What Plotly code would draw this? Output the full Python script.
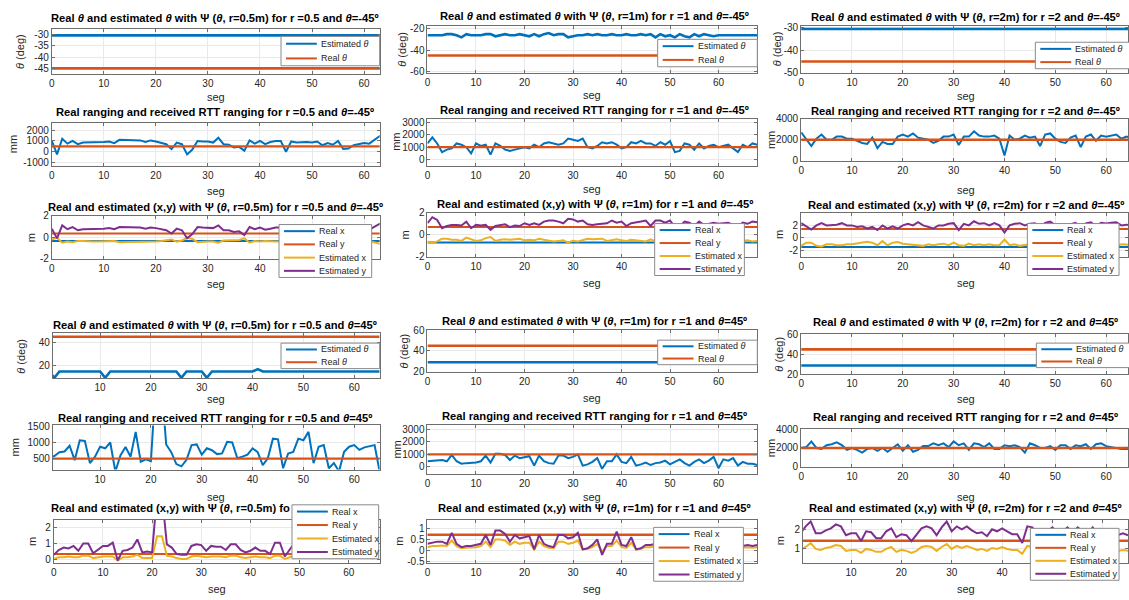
import plotly.graph_objects as go

W, H = 1129, 600

# ---------------- sample axes (seg) ----------------
SEG_A = list(range(0, 65))   # left column, theta = -45º
SEG_B = list(range(0, 69))   # middle column
SEG_C = list(range(0, 66))   # right column
SEG_D = list(range(0, 66))   # left column, theta = 45º

TICKS_SEG = [0, 10, 20, 30, 40, 50, 60]

# ---------------- angle estimates (deg) ----------------
REAL_THETA_NEG = -45
REAL_THETA_POS = 45

EST_THETA_R05_NEG = -30.5
EST_THETA_R1_NEG = [-26, -26, -26, -26, -25, -25, -26, -28, -25, -26,
                    -26, -26, -25, -25, -27, -26, -25, -26, -26, -25,
                    -26, -27, -25, -27, -25, -24, -26, -25, -25, -28,
                    -27, -26, -26, -25, -26, -25, -26, -26, -25, -26,
                    -26, -25, -26, -26, -25, -26, -25, -28, -25, -27,
                    -26, -28, -25, -27, -28, -25, -27, -25, -26, -27,
                    -26, -26, -26, -26, -26, -26, -26, -26, -26]
EST_THETA_R2_NEG = -30.5

EST_THETA_R05_POS = [15, 9.5, 15, 15, 15, 15, 15, 15, 15, 15,
                     15, 9.5, 15, 15, 15, 15, 15, 15, 15, 15,
                     15, 15, 15, 15, 15, 15, 9.5, 15, 15, 15,
                     15, 9.5, 15, 15, 15, 15, 15, 15, 15, 15,
                     15, 17, 15, 15, 15, 15, 15, 15, 15, 15,
                     15, 15, 15, 15, 15, 15, 15, 15, 15, 15,
                     15, 15, 15, 15, 15, 15]
EST_THETA_R1_POS = 29
EST_THETA_R2_POS = 29

# ---------------- ranging (mm) ----------------
REAL_RANGE_R05 = 500
REAL_RANGE_R1 = 1000
REAL_RANGE_R2 = 2000

RTT_R05_NEG = [1000, -250, 1200, 750, 1000, 700, 850, 850, 850, 900,
               900, 950, 800, 1100, 1100, 1050, 1050, 1050, 900, 1050,
               950, 800, 700, 250, 850, 700, -250, 200, 1000, 950,
               950, 850, 1300, 700, 650, 400, 450, 100, 1050, 750,
               1000, 700, 900, 1000, 1000, 0, 950, 850, 900, 900,
               850, 950, 600, 800, 650, 1000, 250, 300, 600, 700,
               800, 750, 1100, 1450, 1150]
RTT_R1_NEG = [1300, 1800, 1300, 600, 800, 900, 1300, 1200, 1000, 500,
              1300, 1100, 1200, 400, 1300, 1100, 800, 700, 800, 900,
              1000, 900, 1200, 1000, 1300, 1400, 1300, 1200, 1300, 1700,
              1600, 1500, 1700, 1000, 900, 1100, 1400, 1300, 1400, 1200,
              900, 1000, 1400, 1300, 1500, 1300, 1300, 1100, 1400, 1200,
              1500, 600, 700, 1300, 1200, 800, 1300, 900, 1100, 1200,
              1000, 1100, 1200, 900, 600, 1200, 1000, 1300, 1200]
RTT_R2_NEG = [2700, 2100, 1400, 2100, 2500, 2000, 2000, 2300, 2300, 2100,
              2100, 1900, 1700, 1600, 2200, 1200, 1800, 1600, 1600, 2300,
              2500, 2300, 2600, 2200, 2100, 2000, 1700, 1900, 2300, 2300,
              2500, 1500, 2300, 2300, 2800, 2400, 2300, 2300, 2400, 2100,
              500, 2400, 2000, 2100, 2400, 2200, 2300, 1400, 2500, 2600,
              2100, 1800, 1700, 2200, 2400, 1300, 2300, 2500, 1900, 2400,
              2300, 2400, 2500, 2100, 2300, 2200]

RTT_R05_POS = [560,
               580, 700, 720, 900, 450, 1070, 1050, 360, 560, 870,
               820, 1000, 100, 600, 860, 560, 1330, 400, 480, 420,
               3000, 3000, 940, 700, 330, 260, 460, 920, 940, 620,
               820, 760, 640, 660, 1020, 1000, 510, 560, 620, 820,
               700, 300, 510, 1120, 1100, 200, 660, 710, 1120, 1070,
               1330, 360, 870, 920, 200, 360, 100, 710, 870, 920,
               770, 850, 880, 920, 100]
RTT_R1_POS = [450, 500, 550, 550, 450, 950, 450, 250, 300, 300,
              350, 450, 900, 350, 1050, 1050, 950, 550, 900, 700,
              800, 850, 100, 900, 450, 300, 250, 900, 900, 700,
              800, 1000, 100, 200, 400, 700, -150, 450, 450, 1000,
              400, 300, 800, 100, 200, 350,
              150, 300, 350, 500, 200, 400, 600, 300, 100, 400,
              600, 300, 500, 800, -100, 600, 500, 700, 100, 400,
              250, 250, 150]
RTT_R2_POS = [2000, 2100, 2700, 2000, 1900, 2300, 2400, 2600, 2300, 1800,
              2000, 1800, 1500, 1900, 2000, 1700, 2000, 1600, 2000, 2400,
              1700, 2300, 1600, 1800, 2200, 2200, 2500, 2300, 2500, 2100,
              2700, 2300, 2500, 1800, 2500, 2400, 2100, 2500, 1900, 1900,
              2300, 2200, 2300, 2100, 1500, 2500, 2300, 2000, 2000, 2200,
              1800, 2300, 2300, 1900, 2300, 2200, 2400, 1900, 2400, 2500,
              2200, 2100, 2000, 1900, 1900, 1900]

# ---------------- positions (m) ----------------
REAL_XY_R05 = 0.354
REAL_XY_R1 = 0.707
REAL_XY_R2 = 1.414

EST_X_R05_NEG = [-0.2, -0.05, -0.5, -0.4, -0.45, -0.35, -0.35, -0.4, -0.4, -0.4,
                 -0.4, -0.4, -0.35, -0.45, -0.45, -0.4, -0.4, -0.4, -0.4, -0.4,
                 -0.4, -0.35, -0.3, -0.2, -0.4, -0.3, -0.05, -0.15, -0.45, -0.4,
                 -0.4, -0.4, -0.5, -0.3, -0.3, -0.25, -0.25, -0.1, -0.5, -0.35,
                 -0.4, -0.35, -0.4, -0.4, -0.4, -0.05, -0.4, -0.4, -0.4, -0.4,
                 -0.4, -0.4, -0.3, -0.35, -0.3, -0.4, -0.2, -0.2, -0.3, -0.35,
                 -0.35, -0.35, -0.45, -0.6, -0.5]
EST_Y_R05_NEG = [0.8, -0.1, 1.1, 0.75, 0.95, 0.65, 0.75, 0.75, 0.75, 0.8,
                 0.8, 0.85, 0.75, 0.95, 0.95, 0.9, 0.9, 0.9, 0.8, 0.9,
                 0.85, 0.75, 0.65, 0.35, 0.8, 0.65, -0.1, 0.3, 0.95, 0.9,
                 0.9, 0.85, 1.1, 0.65, 0.65, 0.5, 0.55, 0.2, 0.95, 0.75,
                 0.9, 0.7, 0.8, 0.9, 0.9, 0.1, 0.9, 0.8, 0.85, 0.85,
                 0.8, 0.9, 0.6, 0.75, 0.65, 0.9, 0.35, 0.4, 0.6, 0.7,
                 0.75, 0.7, 1.0, 1.25, 1.05]
EST_X_R1_NEG = [-0.6, -0.75, -0.6, -0.35, -0.35, -0.45, -0.45, -0.55, -0.25, -0.4,
                -0.55, -0.5, -0.3, -0.2, -0.55, -0.45, -0.4, -0.45, -0.4, -0.35,
                -0.5, -0.45, -0.5, -0.35, -0.45, -0.5, -0.6, -0.55, -0.5, -0.7,
                -0.55, -0.6, -0.45, -0.35, -0.4, -0.4, -0.35, -0.55, -0.45, -0.4,
                -0.5, -0.55, -0.45, -0.5, -0.55, -0.6, -0.4, -0.6, -0.55, -0.5,
                -0.6, -0.35, -0.4, -0.55, -0.5, -0.4, -0.55, -0.45, -0.5, -0.5,
                -0.45, -0.5, -0.55, -0.45, -0.4, -0.55, -0.5, -0.6, -0.55]
EST_Y_R1_NEG = [1.05, 1.6, 1.35, 0.6, 0.8, 0.9, 0.9, 0.85, 1.2, 0.6,
                0.9, 0.85, 0.9, 0.45, 0.8, 0.9, 0.95, 0.7, 0.85, 0.8,
                1.05, 0.9, 1.05, 0.9, 1.2, 1.3, 1.3, 1.2, 1.05, 1.45,
                1.4, 1.2, 1.3, 0.95, 0.9, 0.95, 1.0, 1.05, 1.3, 1.1,
                1.2, 0.8, 1.05, 1.1, 1.2, 1.3, 0.8, 1.3, 1.3, 1.1,
                1.3, 0.7, 0.75, 1.2, 1.1, 0.8, 1.2, 0.9, 1.0, 1.1,
                1.0, 1.05, 1.1, 0.9, 0.75, 1.1, 1.0, 1.2, 1.15]
EST_X_R2_NEG = [-1.25, -0.75, -0.75, -1.25, -1.35, -1.0, -1.0, -1.15, -1.15, -1.0,
                -1.0, -0.9, -0.75, -0.6, -0.75, -1.15, -0.5, -1.15, -0.75, -0.65,
                -0.9, -1.0, -1.15, -1.15, -1.25, -1.0, -1.15, -1.0, -0.9, -1.15,
                -0.75, -1.15, -1.25, -0.9, -1.15, -1.0, -1.15, -1.0, -1.15, -1.15,
                -0.25, -1.15, -1.0, -1.25, -1.15, -1.0, -1.1, -0.8, -1.2, -1.3,
                -1.0, -0.9, -0.85, -1.1, -1.2, -0.7, -1.15, -1.25, -0.95, -1.2,
                -1.15, -1.2, -1.25, -1.0, -1.05, -1.1]
EST_Y_R2_NEG = [2.35, 1.85, 1.35, 2.0, 2.35, 2.0, 2.0, 2.1, 2.35, 2.0,
                2.0, 1.75, 1.85, 1.5, 1.75, 1.25, 2.0, 1.5, 1.85, 1.5,
                2.0, 2.25, 2.0, 2.5, 2.0, 1.75, 1.5, 2.0, 2.0, 2.25,
                2.35, 1.25, 2.25, 2.0, 2.65, 2.25, 2.35, 2.0, 2.35, 2.0,
                0.85, 2.0, 2.25, 2.35, 2.0, 2.25, 2.35, 1.5, 2.4, 2.6,
                2.0, 1.8, 1.7, 2.2, 2.4, 1.3, 2.3, 2.5, 1.9, 2.4,
                2.3, 2.4, 2.5, 2.0, 2.1, 2.0]

EST_X_R05_POS = [0.05, 0.15, 0.15, 0.2, 0.15, 0.15, 0.25, 0.25, 0.1, 0.15,
                 0.2, 0.2, 0.2, -0.05, 0.15, 0.15, 0.2, 0.3, 0.1, 0.1,
                 0.1, 1.45, 1.45, 0.25, 0.2, 0.1, 0.05, 0.05, 0.2, 0.25,
                 0.2, 0.15, 0.2, 0.2, 0.2, 0.15, 0.25, 0.25, 0.15, 0.1,
                 0.15, 0.2, 0.15, 0.15, 0.1, 0.25, 0.25, 0.05, 0.15, 0.25,
                 0.25, 0.2, 0.2, 0.2, 0.15, 0.15, 0.1, 0.2, 0.2, 0.15,
                 0.2, 0.2, 0.2, 0.2, 0.2, 0.05]
EST_Y_R05_POS = [0.3, 0.6, 0.75, 0.7, 0.85, 0.55, 1.0, 1.0, 0.4, 0.65,
                 0.85, 0.85, 1.05, -0.05, 0.55, 0.6, 0.75, 1.25, 0.45, 0.5,
                 0.45, 4.0, 4.0, 0.95, 0.75, 0.35, 0.3, 0.3, 0.85, 0.95,
                 0.9, 0.55, 0.85, 0.8, 0.8, 0.6, 0.95, 0.95, 0.6, 0.45,
                 0.55, 0.75, 0.55, 0.55, 0.35, 1.05, 1.05, 0.2, 0.6, 1.05,
                 1.05, 0.7, 0.8, 0.9, 0.5, 0.6, 0.3, 0.8, 0.9, 0.6,
                 0.85, 0.7, 0.9, 0.8, 0.9, 0.2]
EST_X_R1_POS = [0.15, 0.2, 0.2, 0.22, 0.2, 0.45, 0.2, 0.1, 0.12, 0.12,
                0.15, 0.2, 0.4, 0.15, 0.5, 0.5, 0.45, 0.25, 0.4, 0.3,
                0.35, 0.35, 0.05, 0.4, 0.2, 0.12, 0.1, 0.4, 0.4, 0.3,
                0.35, 0.45, 0.05, 0.08, 0.15, 0.3, -0.05, 0.2, 0.2, 0.45,
                0.15, 0.12, 0.35, 0.05, 0.08, 0.15, 0.15, 0.2, 0.25, 0.3,
                0.2, 0.35, 0.12, 0.25, 0.3, 0.2, 0.12, 0.35, 0.25, 0.2,
                0.3, 0.25, 0.2, 0.15, 0.2, 0.12, 0.15, 0.12, 0.15]
EST_Y_R1_POS = [0.3, 0.35, 0.4, 0.4, 0.3, 0.8, 0.3, 0.15, 0.2, 0.2,
                0.25, 0.3, 0.7, 0.25, 0.9, 0.9, 0.75, 0.4, 0.7, 0.55,
                0.6, 0.65, 0.05, 0.7, 0.3, 0.2, 0.15, 0.7, 0.7, 0.55,
                0.6, 0.8, 0.05, 0.1, 0.25, 0.5, -0.2, 0.3, 0.3, 0.85,
                0.25, 0.2, 0.6, 0.05, 0.1, 0.25, 0.25, 0.3, 0.4, 0.5,
                0.3, 0.6, 0.2, 0.4, 0.5, 0.3, 0.2, 0.6, 0.4, 0.3,
                0.5, 0.4, 0.3, 0.25, 0.3, 0.2, 0.25, 0.2, 0.25]
EST_X_R2_POS = [0.95, 1.1, 1.3, 1.0, 0.95, 1.05, 1.1, 1.2, 1.15, 0.9,
                0.95, 0.95, 0.8, 1.0, 0.95, 0.85, 0.85, 1.0, 1.1, 0.85,
                0.95, 0.9, 0.8, 0.9, 1.1, 1.15, 1.1, 0.9, 1.1, 1.25,
                1.0, 1.15, 1.05, 1.15, 1.05, 0.95, 1.0, 0.9, 1.05, 1.0,
                1.1, 1.0, 0.95, 0.95, 0.75, 1.15, 1.1, 0.95, 1.05, 1.0,
                1.1, 0.95, 1.0, 1.1, 0.95, 1.1, 1.0, 0.95, 1.1, 0.9,
                1.05, 0.95, 1.0, 0.9, 0.95, 0.9]
EST_Y_R2_POS = [1.8, 2.15, 2.4, 1.8, 1.8, 1.95, 2.05, 2.25, 2.15, 1.7,
                1.8, 1.8, 1.4, 1.9, 1.85, 1.55, 1.55, 1.9, 2.05, 1.6,
                1.75, 1.7, 1.4, 1.7, 2.05, 2.15, 2.05, 1.7, 2.1, 2.4,
                1.9, 2.15, 2.0, 2.15, 1.95, 1.8, 1.85, 1.65, 2.0, 1.9,
                2.05, 1.9, 1.75, 1.75, 1.3, 2.15, 2.1, 1.8, 2.0, 1.9,
                2.1, 1.8, 1.9, 2.1, 1.8, 2.1, 1.9, 1.8, 2.1, 1.7,
                2.0, 1.8, 1.9, 1.7, 1.8, 1.7]

# ---------------- styling ----------------
BLUE, ORANGE, YELLOW, PURPLE = "#0072BD", "#D95319", "#EDB120", "#7E2F8E"
TXT = "#262626"
AXC = "#6e6e6e"
GRID = "#e9e9e9"
LEG_EDGE = "#8a8a8a"
FONT = "Liberation Sans, Arial, sans-serif"
TITLE_SIZE = 11.2

TH = "<i>θ</i>"


def title_theta(r, a):
    return f"Real {TH} and estimated {TH} with Ψ ({TH}, r={r}m) for r ={r} and {TH}={a}º"


def title_range(r, a):
    return f"Real ranging and received RTT ranging for r ={r} and {TH}={a}º"


def title_xy(r, a):
    return f"Real and estimated (x,y) with Ψ ({TH}, r={r}m) for r ={r} and {TH}={a}º"


THETA_LEG = [(f"Estimated {TH}", BLUE), (f"Real {TH}", ORANGE)]
XY_LEG = [("Real x", BLUE), ("Real y", ORANGE), ("Estimated x", YELLOW), ("Estimated y", PURPLE)]

# each panel: pixel box (x0, x1, top, bottom), axis ranges, y ticks, series, labels
PANELS = [
    # row 1 : angle, theta = -45º
    dict(px=(49, 378, 23, 69), xr=[0, 63], yr=[-47.3, -27.5], yt=[-45, -40, -35, -30],
         seg=SEG_A, series=[(EST_THETA_R05_NEG, BLUE, 2.6), (REAL_THETA_NEG, ORANGE, 2.6)],
         title=title_theta("0.5", "-45"), ty=12, ylab=f"{TH} (deg)", ylx=17, segy=93,
         legend=((279, 31, 378, 61), THETA_LEG)),
    dict(px=(426, 757, 20, 68), xr=[0, 68], yr=[-61, -17], yt=[-60, -40, -20],
         seg=SEG_B, series=[(EST_THETA_R1_NEG, BLUE, 2.6), (REAL_THETA_NEG, ORANGE, 2.6)],
         title=title_theta("1", "-45"), ty=10, ylab=f"{TH} (deg)", ylx=401, segy=91,
         legend=((657, 34, 757, 62), THETA_LEG)),
    dict(px=(801, 1129, 20, 68), xr=[0, 64.3], yr=[-50, -29], yt=[-50, -40, -30],
         seg=SEG_C, series=[(EST_THETA_R2_NEG, BLUE, 2.6), (REAL_THETA_NEG, ORANGE, 2.6)],
         title=title_theta("2", "-45"), ty=11, ylab=f"{TH} (deg)", ylx=777, segy=92,
         legend=((1036, 37, 1135, 64), THETA_LEG)),
    # row 2 : ranging, theta = -45º
    dict(px=(49, 378, 119, 163), xr=[0, 63], yr=[-1300, 2700], yt=[-1000, 0, 1000, 2000],
         seg=SEG_A, series=[(RTT_R05_NEG, BLUE, 2), (REAL_RANGE_R05, ORANGE, 2.4)],
         title=title_range("0.5", "-45"), ty=108, ylab="mm", ylx=10, segy=189, legend=None),
    dict(px=(426, 757, 115, 163), xr=[0, 68], yr=[-500, 3300], yt=[0, 1000, 2000, 3000],
         seg=SEG_B, series=[(RTT_R1_NEG, BLUE, 2), (REAL_RANGE_R1, ORANGE, 2.4)],
         title=title_range("1", "-45"), ty=106, ylab="mm", ylx=395, segy=187, legend=None),
    dict(px=(801, 1129, 115, 158), xr=[0, 64.3], yr=[0, 4000], yt=[0, 2000, 4000],
         seg=SEG_C, series=[(RTT_R2_NEG, BLUE, 2), (REAL_RANGE_R2, ORANGE, 2.4)],
         title=title_range("2", "-45"), ty=107, ylab="mm", ylx=771, segy=188, legend=None),
    # row 3 : position, theta = -45º
    dict(px=(49, 378, 214, 258), xr=[0, 63], yr=[-2, 2], yt=[-2, 0, 2],
         seg=SEG_A, series=[(-REAL_XY_R05, BLUE, 2), (REAL_XY_R05, ORANGE, 2),
                            (EST_X_R05_NEG, YELLOW, 2), (EST_Y_R05_NEG, PURPLE, 2)],
         title=title_xy("0.5", "-45"), ty=205, ylab="m", ylx=28, segy=284,
         legend=((277, 223, 370, 277), XY_LEG), hidden_x=[50, 60]),
    dict(px=(426, 757, 211, 256), xr=[0, 68], yr=[-2, 2], yt=[-2, 0, 2],
         seg=SEG_B, series=[(-REAL_XY_R1, BLUE, 2), (REAL_XY_R1, ORANGE, 2),
                            (EST_X_R1_NEG, YELLOW, 2), (EST_Y_R1_NEG, PURPLE, 2)],
         title=title_xy("1", "-45"), ty=202, ylab="m", ylx=403, segy=283,
         legend=((654, 222, 744, 275), XY_LEG), hidden_x=[50, 60]),
    dict(px=(801, 1129, 211, 256), xr=[0, 64.3], yr=[-3, 4], yt=[-2, 0, 2],
         seg=SEG_C, series=[(-REAL_XY_R2, BLUE, 2), (REAL_XY_R2, ORANGE, 2),
                            (EST_X_R2_NEG, YELLOW, 2), (EST_Y_R2_NEG, PURPLE, 2)],
         title=title_xy("2", "-45"), ty=203, ylab="m", ylx=779, segy=283,
         legend=((1028, 222, 1120, 275), XY_LEG), hidden_x=[50, 60]),
    # row 4 : angle, theta = 45º
    dict(px=(50, 378, 334, 380), xr=[0.7, 65], yr=[9, 48], yt=[20, 40],
         seg=SEG_D, series=[(EST_THETA_R05_POS, BLUE, 2.6), (REAL_THETA_POS, ORANGE, 2.6)],
         title=title_theta("0.5", "45"), ty=325, ylab=f"{TH} (deg)", ylx=18, segy=401,
         legend=((279, 344, 378, 370), THETA_LEG)),
    dict(px=(426, 757, 331, 373), xr=[0, 68], yr=[20, 60], yt=[20, 40, 60],
         seg=SEG_B, series=[(EST_THETA_R1_POS, BLUE, 2.6), (REAL_THETA_POS, ORANGE, 2.6)],
         title=title_theta("1", "45"), ty=321, ylab=f"{TH} (deg)", ylx=402, segy=400,
         legend=((657, 341, 757, 366), THETA_LEG)),
    dict(px=(801, 1129, 335, 376), xr=[0, 64.3], yr=[20, 60], yt=[20, 40, 60],
         seg=SEG_C, series=[(EST_THETA_R2_POS, BLUE, 2.6), (REAL_THETA_POS, ORANGE, 2.6)],
         title=title_theta("2", "45"), ty=322, ylab=f"{TH} (deg)", ylx=779, segy=401,
         legend=((1037, 344, 1135, 369), THETA_LEG)),
    # row 5 : ranging, theta = 45º
    dict(px=(50, 378, 428, 473), xr=[0.7, 65], yr=[160, 1530], yt=[500, 1000, 1500],
         seg=SEG_D, series=[(RTT_R05_POS, BLUE, 2), (REAL_RANGE_R05, ORANGE, 2.4)],
         title=title_range("0.5", "45"), ty=420, ylab="mm", ylx=13, segy=501, legend=None),
    dict(px=(426, 757, 428, 478), xr=[0, 68], yr=[-600, 3300], yt=[0, 1000, 2000, 3000],
         seg=SEG_B, series=[(RTT_R1_POS, BLUE, 2), (REAL_RANGE_R1, ORANGE, 2.4)],
         title=title_range("1", "45"), ty=418, ylab="mm", ylx=395, segy=501, legend=None),
    dict(px=(801, 1129, 432, 470), xr=[0, 64.3], yr=[0, 4000], yt=[0, 2000, 4000],
         seg=SEG_C, series=[(RTT_R2_POS, BLUE, 2), (REAL_RANGE_R2, ORANGE, 2.4)],
         title=title_range("2", "45"), ty=419, ylab="mm", ylx=771, segy=501, legend=None),
    # row 6 : position, theta = 45º
    dict(px=(51, 378, 524, 568), xr=[0, 66.3], yr=[-0.18, 2.48], yt=[0, 1, 2],
         seg=SEG_D, series=[(REAL_XY_R05, BLUE, 2), (REAL_XY_R05, ORANGE, 2),
                            (EST_X_R05_POS, YELLOW, 2), (EST_Y_R05_POS, PURPLE, 2)],
         title="Real and estimated (x,y) with Ψ (" + TH + ", r=0.5m) fo", tx_left=46,
         ty=512, ylab="m", ylx=29, segy=595,
         legend=((290, 509, 377, 564), XY_LEG)),
    dict(px=(426, 757, 524, 568), xr=[0, 68], yr=[-0.55, 1.4], yt=[-0.5, 0, 0.5, 1],
         seg=SEG_B, series=[(REAL_XY_R1, BLUE, 2), (REAL_XY_R1, ORANGE, 2),
                            (EST_X_R1_POS, YELLOW, 2), (EST_Y_R1_POS, PURPLE, 2)],
         title=title_xy("1", "45"), ty=512, ylab="m", ylx=397, segy=595,
         legend=((653, 532, 743, 587), XY_LEG), hidden_x=[50, 60]),
    dict(px=(803, 1129, 524, 568), xr=[0.5, 65], yr=[0.3, 2.5], yt=[1, 2],
         seg=SEG_C, series=[(REAL_XY_R2, BLUE, 2), (REAL_XY_R2, ORANGE, 2),
                            (EST_X_R2_POS, YELLOW, 2), (EST_Y_R2_POS, PURPLE, 2)],
         title=title_xy("2", "45"), ty=512, ylab="m", ylx=780, segy=595,
         legend=((1031, 533, 1120, 586), XY_LEG), hidden_x=[50, 60]),
]

COL_CENTER = [213, 594, 966]


def fx(px):
    return px / W


def fy(py):
    return 1 - py / H


def tick_text(vals, hidden=()):
    # labels sitting under a legend box are left blank (grid lines stay)
    return ["" if v in hidden else f"{v:g}" for v in vals]


fig = go.Figure()
layout = dict(
    width=W, height=H, margin=dict(l=0, r=0, t=0, b=0),
    paper_bgcolor="white", plot_bgcolor="white", showlegend=False,
    font=dict(family=FONT, color=TXT),
)
shapes, annotations = [], []

for k, p in enumerate(PANELS, start=1):
    xname = "xaxis" if k == 1 else f"xaxis{k}"
    yname = "yaxis" if k == 1 else f"yaxis{k}"
    xref = "x" if k == 1 else f"x{k}"
    yref = "y" if k == 1 else f"y{k}"
    x0, x1, top, bot = p["px"]
    common = dict(showgrid=True, gridcolor=GRID, gridwidth=1, zeroline=False,
                  showline=True, mirror="ticks", linecolor=AXC, linewidth=1,
                  ticks="inside", ticklen=3, tickcolor=AXC,
                  tickfont=dict(size=10, color=TXT, family=FONT), fixedrange=True)
    layout[xname] = dict(domain=[fx(x0), fx(x1)], range=p["xr"], anchor=yref,
                         tickvals=TICKS_SEG, ticktext=tick_text(TICKS_SEG, p.get("hidden_x", ())),
                         **common)
    layout[yname] = dict(domain=[fy(bot), fy(top)], range=p["yr"], anchor=xref,
                         tickvals=p["yt"], ticktext=tick_text(p["yt"]), **common)

    seg = p["seg"]
    for values, color, width in p["series"]:
        if isinstance(values, (int, float)):
            xs, ys = [seg[0], seg[-1]], [values, values]
        else:
            xs, ys = seg, values
        fig.add_trace(go.Scatter(x=xs, y=ys, mode="lines", xaxis=xref, yaxis=yref,
                                 line=dict(color=color, width=width), hoverinfo="skip"))

    col = (k - 1) % 3
    if "tx_left" in p:
        annotations.append(dict(text=f"<b>{p['title']}</b>", x=fx(p["tx_left"]), y=fy(p["ty"]),
                                xref="paper", yref="paper", xanchor="left", yanchor="middle",
                                showarrow=False, font=dict(size=TITLE_SIZE, color="#000000")))
    else:
        annotations.append(dict(text=f"<b>{p['title']}</b>", x=fx(COL_CENTER[col]), y=fy(p["ty"]),
                                xref="paper", yref="paper", xanchor="center", yanchor="middle",
                                showarrow=False, font=dict(size=TITLE_SIZE, color="#000000")))
    annotations.append(dict(text=p["ylab"], x=fx(p["ylx"]), y=fy((top + bot) / 2),
                            xref="paper", yref="paper", xanchor="center", yanchor="middle",
                            textangle=-90, showarrow=False, font=dict(size=11, color=TXT)))
    annotations.append(dict(text="seg", x=fx((x0 + x1) / 2 if col < 2 else COL_CENTER[2]),
                            y=fy(p["segy"]), xref="paper", yref="paper",
                            xanchor="center", yanchor="middle", showarrow=False,
                            font=dict(size=11, color=TXT)))

    if p["legend"]:
        (lx0, ly0, lx1, ly1), items = p["legend"]
        shapes.append(dict(type="rect", xref="paper", yref="paper",
                           x0=fx(lx0), x1=fx(lx1), y0=fy(ly1), y1=fy(ly0),
                           fillcolor="white", line=dict(color=LEG_EDGE, width=1), layer="above"))
        step = (ly1 - ly0) / len(items)
        for i, (label, color) in enumerate(items):
            yc = ly0 + step * (i + 0.5)
            shapes.append(dict(type="line", xref="paper", yref="paper",
                               x0=fx(lx0 + 5), x1=fx(lx0 + 36), y0=fy(yc), y1=fy(yc),
                               line=dict(color=color, width=2), layer="above"))
            annotations.append(dict(text=label, x=fx(lx0 + 38), y=fy(yc), xref="paper", yref="paper",
                                    xanchor="left", yanchor="middle", showarrow=False,
                                    font=dict(size=9, color=TXT)))

layout["shapes"] = shapes
layout["annotations"] = annotations
fig.update_layout(**layout)
fig.write_html("out.html")
